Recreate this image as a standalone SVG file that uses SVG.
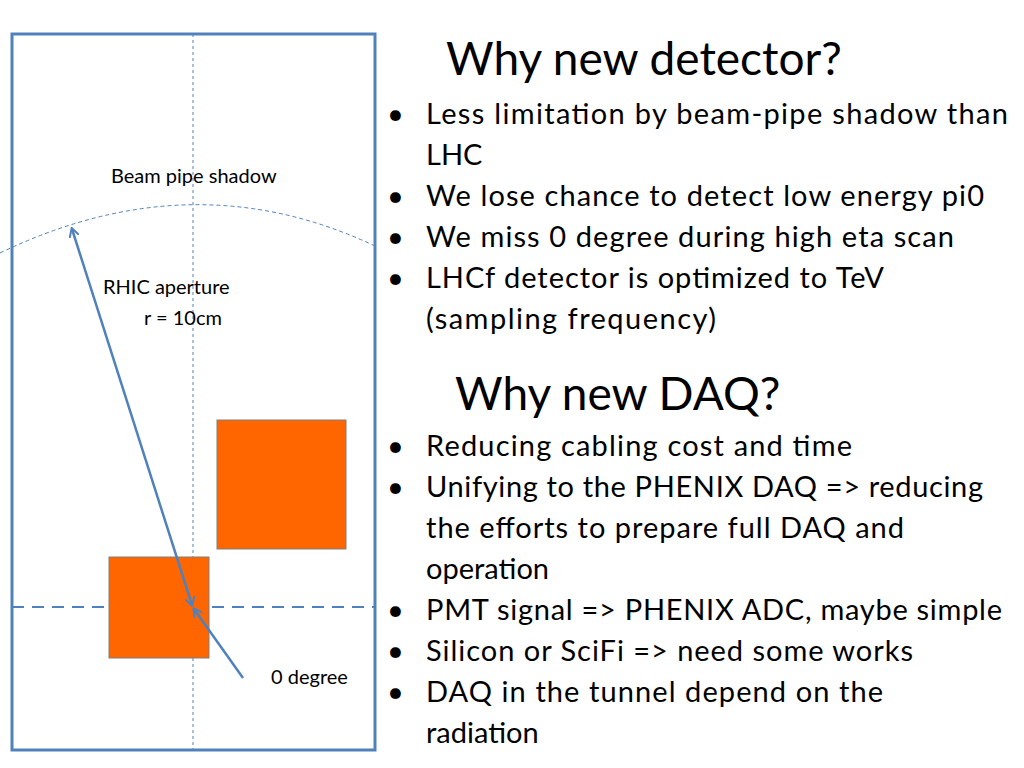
<svg xmlns="http://www.w3.org/2000/svg" width="1024" height="768" viewBox="0 0 1024 768">
<style>
text{font-family:Lato,"Open Sans",sans-serif;fill:#000}
.b{font-size:29px}
.t{font-size:46px}
.s{font-size:20px}
.ln{stroke:#4f81bd;fill:none}
.box{fill:#ff6600;stroke:#7f7f7f;stroke-width:1}
</style>
<defs>
<marker id="ah" markerWidth="10" markerHeight="10" refX="8" refY="5" orient="auto-start-reverse" markerUnits="userSpaceOnUse">
<path d="M0,0 L9,5 L0,10" fill="none" stroke="#4f81bd" stroke-width="2"/>
</marker>
</defs>
<rect width="1024" height="768" fill="#fff"/>
<g id="frame">
<rect x="12" y="34" width="363" height="716" class="ln" stroke-width="3"/>
<line x1="193" y1="34" x2="193" y2="750" class="ln" stroke-width="1" stroke-dasharray="3,3"/>
<line x1="12" y1="607" x2="375" y2="607" class="ln" stroke-width="2" stroke-dasharray="12,8"/>
<path d="M0,253 Q193,160 375,246" class="ln" stroke-width="1" stroke-dasharray="4,3"/>
</g>
<g id="det1"><rect x="217" y="420" width="129" height="129" class="box"/></g>
<g id="det2"><rect x="109" y="557" width="100" height="101" class="box"/></g>
<g id="connectors">
<line x1="72" y1="229" x2="192" y2="605" class="ln" stroke-width="2.5" marker-start="url(#ah)" marker-end="url(#ah)"/>
<line x1="243" y1="678" x2="194" y2="609" class="ln" stroke-width="2.5" marker-end="url(#ah)"/>
</g>
<g id="labels">
<text x="111" y="183" class="s">Beam pipe shadow</text>
<text x="103" y="294" class="s">RHIC aperture</text>
<text x="144" y="325" class="s">r = 10cm</text>
<text x="271" y="684" class="s">0 degree</text>
</g>
<g id="text">
<text x="446" y="75" class="t">Why new detector?</text>
<g class="b">
<text x="387" y="124">•</text><text x="426" y="124" textLength="582">Less limitation by beam-pipe shadow than</text>
<text x="426" y="165">LHC</text>
<text x="387" y="206">•</text><text x="426" y="206" textLength="558">We lose chance to detect low energy pi0</text>
<text x="387" y="247">•</text><text x="426" y="247" textLength="528">We miss 0 degree during high eta scan</text>
<text x="387" y="288">•</text><text x="426" y="288" textLength="458">LHCf detector is optimized to TeV</text>
<text x="426" y="329" textLength="290">(sampling frequency)</text>
</g>
<text x="455" y="410" class="t">Why new DAQ?</text>
<g class="b">
<text x="387" y="456">•</text><text x="426" y="456" textLength="426">Reducing cabling cost and time</text>
<text x="387" y="497">•</text><text x="426" y="497" textLength="557">Unifying to the PHENIX DAQ =&gt; reducing</text>
<text x="426" y="538" textLength="478">the efforts to prepare full DAQ and</text>
<text x="426" y="579">operation</text>
<text x="387" y="620">•</text><text x="426" y="620" textLength="576">PMT signal =&gt; PHENIX ADC, maybe simple</text>
<text x="387" y="661">•</text><text x="426" y="661" textLength="487">Silicon or SciFi =&gt; need some works</text>
<text x="387" y="702">•</text><text x="426" y="702" textLength="457">DAQ in the tunnel depend on the</text>
<text x="426" y="743">radiation</text>
</g>
</g>
</svg>
